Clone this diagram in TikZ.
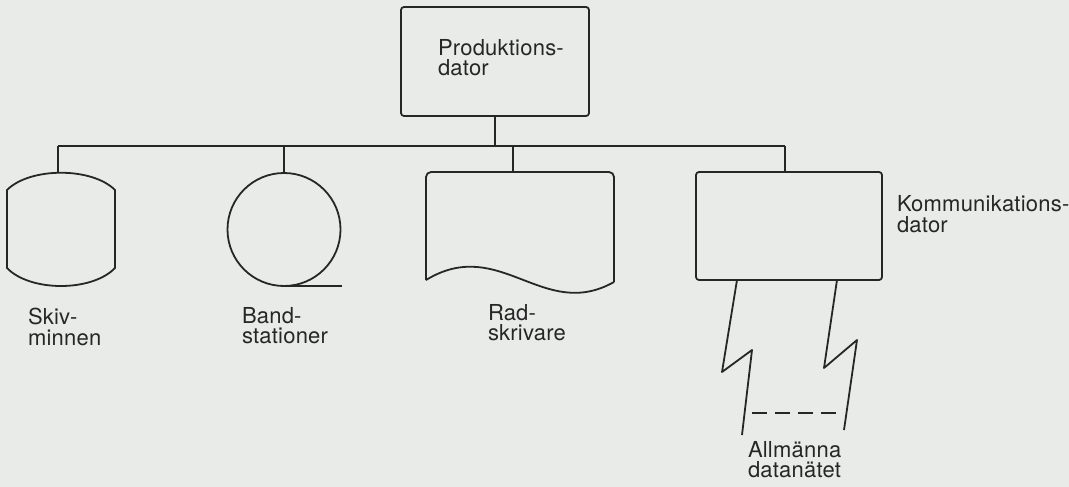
\documentclass[tikz,border=0pt]{standalone}
\usepackage{fontspec}
\setmainfont{TeX Gyre Heros}[LetterSpace=1]
\definecolor{paper}{RGB}{233,235,233}
\definecolor{ink}{RGB}{38,38,38}
\begin{document}
\begin{tikzpicture}[x=1pt,y=-1pt,
  line width=1.8pt, draw=ink, line join=round,
  every node/.style={inner sep=0pt, outer sep=0pt},
  lbl/.style={anchor=base west, align=left, text=ink, font=\fontsize{22}{20.5}\selectfont},
  boxstyle/.style={draw=ink, rectangle, rounded corners=3pt}]
\useasboundingbox (0,0) rectangle (1069,487);
\fill[paper] (0,0) rectangle (1069,487);

% production computer
\node[boxstyle, minimum width=188pt, minimum height=109pt] (prod) at (495,61.5) {};
\node[lbl] (prodtxt) at (438,75.5) {Produktions-\\dator};

% bus
\coordinate (bus) at (495,146);
\coordinate (disk) at (58,173);
\node[circle, draw=ink, minimum size=113pt] (tape) at (284,229.5) {};
\coordinate (printer) at (513,172);
\node[boxstyle, minimum width=186pt, minimum height=108pt] (comm) at (789,226) {};
\coordinate (commtop) at (785,172);

\draw (prod.south) -- (bus);
\draw (disk |- bus) -- (commtop |- bus);
\draw (disk |- bus) -- (disk);
\draw (tape.north |- bus) -- (tape.north);
\draw (printer |- bus) -- (printer);
\draw (commtop |- bus) -- (commtop);

% disk storage
\draw (7,190) .. controls (30,167) and (92,167) .. (115,190) -- (115,268)
      .. controls (92,292) and (30,292) .. (7,268) -- cycle;

% tape tail
\coordinate (tapetail) at (342,286);
\draw (tape.south) -- (tapetail);

% printer
\draw[rounded corners=5pt] (426,280) -- (426,172) -- (614,172) -- (614,282);
\draw (614,282) .. controls (543,322) and (500,235) .. (426,280);

% communication lines
\coordinate (l1) at (737,280);
\coordinate (l4) at (742,435);
\coordinate (r1) at (837,280);
\coordinate (r4) at (844,430);
\draw (l1) -- (722,372) -- (752,350) -- (l4);
\draw (r1) -- (824,368) -- (857,340) -- (r4);
\coordinate (dl) at (752,413);
\coordinate (dr) at (837,413);
\draw[dash pattern=on 15pt off 8pt] (dl) -- (dr);

% labels
\node[lbl] (skiv) at (28,345) {Skiv-\\minnen};
\node[lbl] (band) at (242,343.5) {Band-\\stationer};
\node[lbl] (rad) at (488,340.5) {Rad-\\skrivare};
\node[lbl] (kom) at (897,232) {Kommunikations-\\dator};
\node[lbl] (allm) at (748,477.5) {Allmänna\\datanätet};
\end{tikzpicture}
\end{document}
